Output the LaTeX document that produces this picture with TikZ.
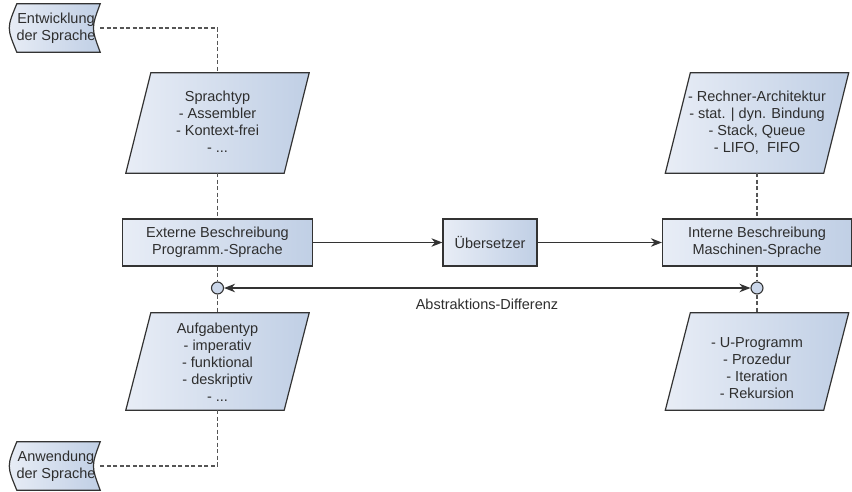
\documentclass[tikz,border=0pt]{standalone}
\usepackage{fontspec}
\setmainfont{Liberation Sans}
\usetikzlibrary{arrows.meta}
\definecolor{txtc}{HTML}{2E2E2E}
\definecolor{linec}{HTML}{333333}
\definecolor{dashc}{HTML}{555555}
\definecolor{fillL}{HTML}{E8EDF6}
\definecolor{fillR}{HTML}{C0CFE5}
\definecolor{circf}{HTML}{CBD7EA}
\pgfdeclarelayer{bg}
\pgfsetlayers{bg,main}
\newcommand\drawpara[2]{%
  \path[boxsh] ([xshift=-#2pt]#1.south west) -- ([xshift=-#2pt]#1.south east)
    -- ([xshift=#2pt]#1.north east) -- ([xshift=#2pt]#1.north west) -- cycle;}
\newcommand\drawstore[1]{%
  \path[boxsh] ([xshift=5pt]#1.north west) -- (#1.north east)
    .. controls ([xshift=-9pt]#1.east) .. (#1.south east)
    -- ([xshift=5pt]#1.south west)
    .. controls ([xshift=-5pt]#1.west) .. ([xshift=5pt]#1.north west) -- cycle;}
\begin{document}
\begin{tikzpicture}[x=1pt,y=-1pt,
  every node/.style={font=\fontsize{14.5}{17}\selectfont, text=txtc},
  boxsh/.style={draw=linec, line width=1.2pt, left color=fillL, right color=fillR},
  rbox/.style={boxsh, rectangle, inner sep=0pt, align=center, minimum height=47pt},
  region/.style={rectangle, inner sep=0pt, align=center},
  txt/.style={align=center, inner sep=0pt},
  dashln/.style={draw=dashc, line width=1.1pt, dash pattern=on 4pt off 2.5pt},
  arr/.style={draw=linec, line width=1.3pt, -{Stealth[length=11pt,width=8.5pt,inset=3.5pt]}},
  darr/.style={draw=linec, line width=1.3pt, {Stealth[length=11pt,width=8.5pt,inset=3.5pt]}-{Stealth[length=11pt,width=8.5pt,inset=3.5pt]}},
  circ/.style={circle, draw=linec, line width=1.1pt, fill=circf, minimum size=12pt, inner sep=0pt}
]
\useasboundingbox (0,0) rectangle (852,491);

% stored-data shapes
\node[region, minimum width=88pt, minimum height=48pt] (ent) at (56,28) {Entwicklung\\der Sprache};
\node[region, minimum width=88pt, minimum height=48pt] (anw) at (56,466) {Anwendung\\der Sprache};

% parallelogram regions
\node[region, minimum width=158pt, minimum height=100pt] (spr) at (217.5,123) {};
\node[txt] (sprt) at (217.5,122) {Sprachtyp\\- Assembler\\- Kontext-frei\\- ...};
\node[region, minimum width=158pt, minimum height=100pt] (rec) at (757,123) {};
\node[txt] (rect) at (757,123) {- Rechner-Architektur\\- stat. | dyn. Bindung\\- Stack, Queue\\- LIFO,\ \ FIFO};
\node[region, minimum width=158pt, minimum height=97pt] (auf) at (217.5,361.5) {};
\node[txt] (auft) at (217.5,362) {Aufgabentyp\\- imperativ\\- funktional\\- deskriptiv\\- ...};
\node[region, minimum width=158pt, minimum height=97pt] (upr) at (757,361.5) {};
\node[txt] (uprt) at (757,368) {- U-Programm\\- Prozedur\\- Iteration\\- Rekursion};

% boxes
\node[rbox, minimum width=190pt] (ext) at (217.5,242.5) {Externe Beschreibung\\Programm.-Sprache};
\node[rbox, minimum width=94pt] (ueb) at (490,242.5) {Übersetzer};
\node[rbox, minimum width=189pt] (int) at (757,242.5) {Interne Beschreibung\\Maschinen-Sprache};

% circles
\node[circ] (c1) at (217.5,288) {};
\node[circ] (c2) at (757,288) {};

\node[txt] (lbl) at (487,304) {Abstraktions-Differenz};

\begin{pgfonlayer}{bg}
  \drawstore{ent}
  \drawstore{anw}
  \drawpara{spr}{12.5}
  \drawpara{rec}{12.5}
  \drawpara{auf}{12.5}
  \drawpara{upr}{12.5}
  \draw[dashln] (ent.east) -| (spr.north);
  \draw[dashln] (spr.south) -- (ext.north);
  \draw[dashln] (ext.south) -- (c1);
  \draw[dashln] (c1) -- (auf.north);
  \draw[dashln] (auf.south) |- (anw.east);
  \draw[dashln] (rec.south) -- (int.north);
  \draw[dashln] (int.south) -- (c2);
  \draw[dashln] (c2) -- (upr.north);
\end{pgfonlayer}

\draw[arr] (ext.east) -- (ueb.west);
\draw[arr] (ueb.east) -- (int.west);
\draw[darr] (c1) -- (c2);
\end{tikzpicture}
\end{document}
